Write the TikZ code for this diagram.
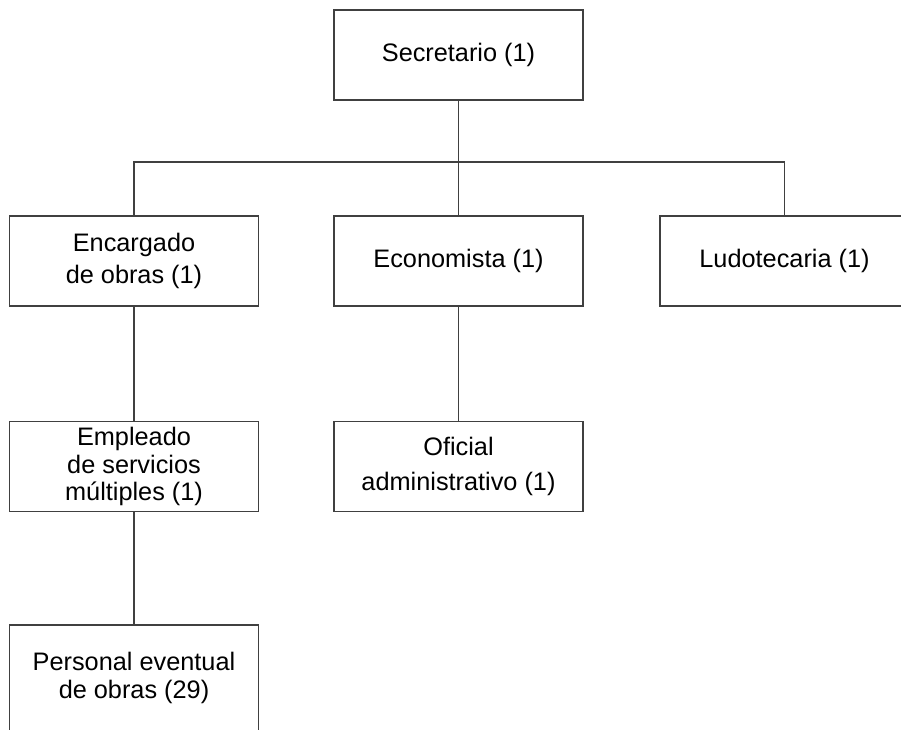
\documentclass[tikz,border=0pt]{standalone}
\usepackage{fontspec}
\setmainfont{Liberation Sans}
\newcommand{\fs}[1]{\fontsize{25.3}{#1}\selectfont}
\begin{document}
\begin{tikzpicture}[x=1pt,y=-1pt,
  box/.style={draw=black!75, line width=1.1pt, minimum width=249pt, minimum height=90pt,
    inner sep=0pt, align=center, font=\fs{32}},
  conn/.style={draw=black!75, line width=1.1pt}]
\useasboundingbox (0,0) rectangle (901,729);
\node[box] (sec) at (458.5,55) {Secretario (1)};
\node[box] (enc) at (134,261) {Encargado\\de obras (1)};
\node[box] (eco) at (458.5,261) {Economista (1)};
\node[box] (lud) at (784.5,261) {Ludotecaria (1)};
\node[box, font=\fs{27.5}] (emp) at (134,466.5) {Empleado\\de servicios\\múltiples (1)};
\node[box, font=\fs{35.5}] (ofi) at (458.5,466.5) {Oficial\\administrativo (1)};
\node[box, font=\fs{28.5}, minimum height=106pt] (per) at (134,678) {Personal eventual\\de obras (29)};
\coordinate (bus) at (458.5,162);
\draw[conn] (sec.south) -- (bus);
\draw[conn] (enc.north) -- (enc.north |- bus) -- (lud.north |- bus) -- (lud.north);
\draw[conn] (eco.north) -- (eco.north |- bus);
\draw[conn] (enc.south) -- (emp.north);
\draw[conn] (eco.south) -- (ofi.north);
\draw[conn] (emp.south) -- (per.north);
\end{tikzpicture}
\end{document}
